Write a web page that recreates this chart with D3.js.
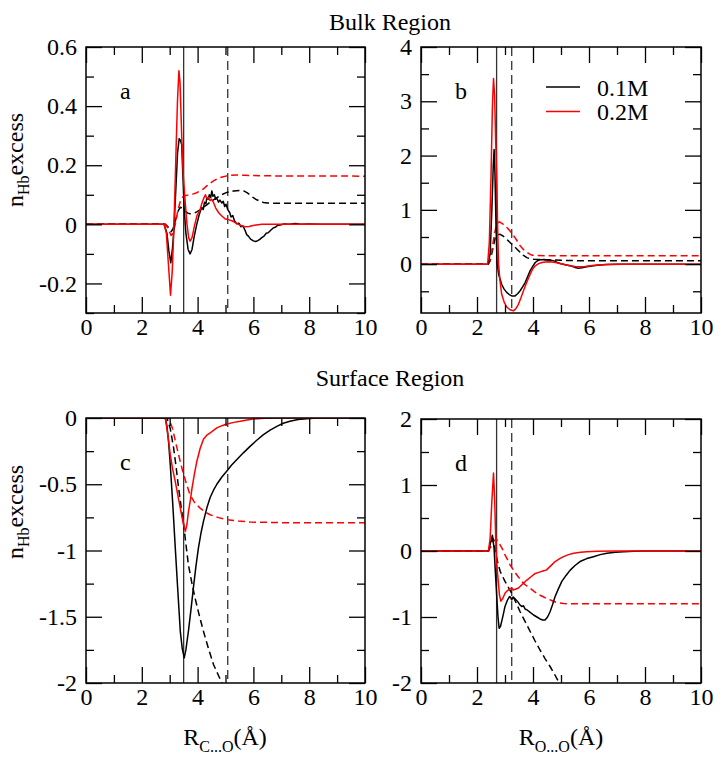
<!DOCTYPE html>
<html>
<head>
<meta charset="utf-8">
<script src="https://cdn.jsdelivr.net/npm/d3@7/dist/d3.min.js"></script>
<style>
  html, body { margin: 0; padding: 0; background: #fff; }
  svg { display: block; }
  text { font-family: "Liberation Serif", "Times New Roman", serif; fill: #000; }
</style>
</head>
<body>
<svg id="chart" width="721" height="761" font-family="Liberation Serif, serif"></svg>
<script>
// ---------------- DATA ----------------
const seriesNames = ["0.1M", "0.2M"];
const xMajorTicks = [0, 2, 4, 6, 8, 10];
const xMinorTicks = [1, 3, 5, 7, 9];

// Panel a (Bulk, R C...O)
const aSolid01 = [[0,0],[2.8,0],[2.9,-0.03],[2.97,-0.09],[3.04,-0.13],[3.1,-0.08],[3.15,-0.02],[3.22,0.12],[3.28,0.24],[3.34,0.29],[3.38,0.285],[3.43,0.27],[3.47,0.17],[3.52,0.05],[3.58,-0.03],[3.66,-0.085],[3.73,-0.1],[3.8,-0.085],[3.88,-0.04],[3.97,0.0],[4.05,0.03],[4.1,0.045],[4.15,0.057],[4.2,0.05],[4.25,0.075],[4.3,0.07],[4.33,0.09],[4.38,0.085],[4.42,0.1],[4.47,0.09],[4.51,0.113],[4.55,0.095],[4.6,0.1],[4.65,0.085],[4.69,0.088],[4.75,0.075],[4.8,0.082],[4.87,0.072],[4.92,0.078],[4.97,0.06],[5.02,0.068],[5.08,0.05],[5.15,0.04],[5.2,0.025],[5.26,0.03],[5.32,0.012],[5.4,0.002],[5.48,0.004],[5.55,-0.008],[5.62,-0.005],[5.7,-0.02],[5.76,-0.035],[5.82,-0.04],[5.9,-0.05],[6.0,-0.056],[6.08,-0.058],[6.16,-0.055],[6.24,-0.05],[6.3,-0.045],[6.38,-0.04],[6.46,-0.03],[6.54,-0.028],[6.62,-0.02],[6.7,-0.013],[6.78,-0.01],[6.86,-0.004],[6.95,-0.002],[7.1,0.001],[7.3,0.0],[7.5,0.003],[7.7,0],[8,0.001],[8.5,0],[10,0]];
const aSolid02 = [[0,0],[2.8,0],[2.88,-0.03],[2.95,-0.13],[3.03,-0.24],[3.09,-0.16],[3.14,-0.04],[3.19,0.12],[3.23,0.26],[3.28,0.42],[3.33,0.52],[3.37,0.48],[3.43,0.3],[3.49,0.16],[3.56,0.07],[3.62,0.0],[3.68,-0.045],[3.73,-0.057],[3.8,-0.045],[3.9,0.0],[3.98,0.03],[4.08,0.046],[4.15,0.07],[4.21,0.086],[4.28,0.1],[4.33,0.088],[4.39,0.09],[4.45,0.08],[4.5,0.085],[4.57,0.074],[4.65,0.055],[4.75,0.04],[4.85,0.03],[4.99,0.018],[5.1,0.016],[5.23,0.012],[5.35,0.006],[5.47,0.0],[5.6,-0.006],[5.7,-0.008],[5.85,-0.007],[5.94,-0.005],[6.1,-0.002],[6.3,0],[10,0]];
const aDash01 = [[0,0],[2.85,0],[2.95,-0.01],[3.05,-0.025],[3.12,-0.015],[3.2,0.01],[3.3,0.045],[3.38,0.058],[3.45,0.055],[3.55,0.045],[3.65,0.038],[3.73,0.036],[3.85,0.037],[3.97,0.042],[4.1,0.05],[4.21,0.058],[4.33,0.066],[4.45,0.075],[4.57,0.083],[4.69,0.09],[4.85,0.1],[5.05,0.108],[5.29,0.113],[5.53,0.115],[5.65,0.113],[5.77,0.107],[5.9,0.098],[6.0,0.09],[6.12,0.083],[6.24,0.078],[6.36,0.074],[6.5,0.072],[6.8,0.071],[10,0.071]];
const aDash02 = [[0,0],[2.85,0],[2.95,-0.015],[3.05,-0.038],[3.12,-0.03],[3.2,0.0],[3.3,0.05],[3.4,0.085],[3.5,0.095],[3.6,0.098],[3.75,0.1],[3.85,0.103],[3.97,0.107],[4.09,0.113],[4.21,0.12],[4.33,0.13],[4.45,0.139],[4.57,0.147],[4.7,0.154],[4.8,0.158],[4.92,0.161],[5.05,0.164],[5.2,0.166],[5.41,0.167],[5.7,0.166],[6.5,0.164],[10,0.163]];

// Panel b (Bulk, R O...O)
const bSolid01 = [[0,0],[2.4,0],[2.47,0.2],[2.53,1.0],[2.58,1.8],[2.61,2.11],[2.64,1.7],[2.68,0.7],[2.72,0.0],[2.78,-0.2],[2.88,-0.37],[2.97,-0.46],[3.06,-0.52],[3.15,-0.56],[3.24,-0.585],[3.36,-0.585],[3.45,-0.545],[3.54,-0.49],[3.63,-0.42],[3.72,-0.34],[3.81,-0.23],[3.9,-0.12],[3.99,-0.04],[4.08,0.03],[4.17,0.065],[4.25,0.08],[4.4,0.085],[4.5,0.078],[4.61,0.075],[4.75,0.06],[4.85,0.035],[4.97,0.012],[5.15,-0.01],[5.33,-0.03],[5.5,-0.06],[5.62,-0.074],[5.75,-0.065],[5.92,-0.05],[6.1,-0.035],[6.3,-0.02],[6.6,-0.008],[7,-0.003],[8,0],[10,0]];
const bSolid02 = [[0,0],[2.38,0],[2.44,0.4],[2.5,1.6],[2.55,2.9],[2.59,3.42],[2.63,3.1],[2.67,2.2],[2.71,1.48],[2.74,0.6],[2.77,0.0],[2.82,-0.3],[2.88,-0.55],[2.97,-0.7],[3.06,-0.79],[3.18,-0.84],[3.3,-0.86],[3.39,-0.82],[3.48,-0.74],[3.57,-0.62],[3.66,-0.49],[3.78,-0.33],[3.9,-0.185],[3.99,-0.09],[4.08,-0.03],[4.2,0.01],[4.32,0.03],[4.45,0.04],[4.61,0.043],[4.8,0.03],[4.97,0.012],[5.15,-0.01],[5.33,-0.03],[5.5,-0.045],[5.68,-0.05],[5.85,-0.042],[6.04,-0.03],[6.3,-0.015],[6.7,-0.005],[7.2,0],[10,0]];
const bDash01 = [[0,0],[2.4,0],[2.47,0.06],[2.55,0.25],[2.65,0.49],[2.74,0.54],[2.83,0.55],[2.95,0.51],[3.06,0.46],[3.18,0.4],[3.3,0.34],[3.42,0.28],[3.54,0.22],[3.66,0.16],[3.78,0.12],[3.9,0.1],[4.02,0.09],[4.25,0.085],[4.5,0.08],[5.0,0.07],[5.68,0.063],[6.5,0.062],[10,0.062]];
const bDash02 = [[0,0],[2.4,0],[2.47,0.08],[2.53,0.25],[2.62,0.55],[2.71,0.75],[2.8,0.78],[2.92,0.74],[3.06,0.68],[3.18,0.61],[3.3,0.53],[3.42,0.44],[3.54,0.34],[3.66,0.27],[3.78,0.22],[3.9,0.18],[3.96,0.165],[4.1,0.158],[4.5,0.155],[10,0.155]];

// Panel c (Surface, R C...O)
const cSolid01 = [[0,0],[2.84,0],[2.9,-0.06],[2.96,-0.18],[3.02,-0.35],[3.11,-0.65],[3.2,-0.98],[3.29,-1.3],[3.38,-1.61],[3.45,-1.74],[3.52,-1.81],[3.58,-1.75],[3.67,-1.61],[3.76,-1.45],[3.85,-1.28],[3.94,-1.12],[4.03,-0.98],[4.12,-0.87],[4.21,-0.78],[4.33,-0.68],[4.45,-0.6],[4.57,-0.545],[4.69,-0.5],[4.87,-0.445],[5.05,-0.4],[5.22,-0.355],[5.4,-0.315],[5.64,-0.263],[5.88,-0.214],[6.12,-0.168],[6.36,-0.126],[6.6,-0.092],[6.84,-0.063],[7.07,-0.04],[7.31,-0.025],[7.6,-0.012],[7.91,-0.005],[8.3,0],[10,0]];
const cSolid02 = [[0,0],[2.84,0],[2.93,-0.12],[3.02,-0.277],[3.11,-0.39],[3.2,-0.48],[3.29,-0.58],[3.38,-0.68],[3.47,-0.78],[3.56,-0.856],[3.62,-0.8],[3.67,-0.71],[3.74,-0.62],[3.8,-0.53],[3.88,-0.43],[3.97,-0.33],[4.09,-0.23],[4.21,-0.16],[4.33,-0.13],[4.45,-0.113],[4.57,-0.093],[4.69,-0.075],[4.87,-0.058],[5.05,-0.045],[5.3,-0.033],[5.53,-0.025],[5.77,-0.015],[6.0,-0.008],[6.4,-0.002],[7,0],[10,0]];
const cDash01 = [[0,0],[2.9,0],[3.02,-0.08],[3.14,-0.226],[3.23,-0.37],[3.32,-0.53],[3.41,-0.67],[3.5,-0.805],[3.58,-0.95],[3.67,-1.107],[3.79,-1.24],[3.91,-1.36],[4.06,-1.49],[4.21,-1.61],[4.39,-1.74],[4.57,-1.86],[4.72,-1.93],[4.87,-2.0],[5.0,-2.06]];
const cDash02 = [[0,0],[2.96,0],[3.1,-0.08],[3.26,-0.226],[3.38,-0.33],[3.5,-0.428],[3.62,-0.51],[3.73,-0.58],[3.9,-0.64],[4.09,-0.68],[4.27,-0.71],[4.45,-0.73],[4.75,-0.752],[5.05,-0.768],[5.45,-0.778],[5.88,-0.785],[7,-0.79],[10,-0.79]];

// Panel d (Surface, R O...O)
const dSolid01 = [[0,0],[2.41,0],[2.48,0.12],[2.55,0.24],[2.61,0.04],[2.66,-0.35],[2.71,-0.72],[2.75,-1.0],[2.79,-1.17],[2.84,-1.14],[2.88,-1.07],[2.94,-0.96],[3.0,-0.84],[3.08,-0.75],[3.16,-0.69],[3.2,-0.7],[3.24,-0.74],[3.28,-0.7],[3.35,-0.72],[3.44,-0.76],[3.54,-0.82],[3.6,-0.84],[3.66,-0.83],[3.72,-0.88],[3.78,-0.89],[3.9,-0.93],[4.02,-0.97],[4.14,-1.0],[4.25,-1.03],[4.35,-1.045],[4.43,-1.045],[4.52,-1.0],[4.61,-0.92],[4.7,-0.81],[4.79,-0.69],[4.91,-0.57],[5.03,-0.46],[5.18,-0.37],[5.33,-0.29],[5.5,-0.22],[5.68,-0.16],[5.92,-0.115],[6.16,-0.086],[6.4,-0.055],[6.64,-0.035],[6.94,-0.018],[7.24,-0.01],[7.6,-0.003],[8,0],[10,0]];
const dSolid02 = [[0,0],[2.41,0],[2.47,0.2],[2.53,0.75],[2.59,1.18],[2.63,0.8],[2.68,0.0],[2.72,-0.28],[2.76,-0.46],[2.8,-0.66],[2.85,-0.76],[2.92,-0.72],[3.0,-0.64],[3.09,-0.6],[3.18,-0.57],[3.24,-0.56],[3.3,-0.59],[3.39,-0.575],[3.48,-0.56],[3.63,-0.5],[3.78,-0.44],[3.93,-0.39],[4.08,-0.34],[4.23,-0.32],[4.38,-0.3],[4.47,-0.29],[4.55,-0.26],[4.67,-0.21],[4.79,-0.16],[4.94,-0.12],[5.09,-0.086],[5.27,-0.055],[5.45,-0.035],[5.7,-0.02],[5.92,-0.01],[6.3,-0.003],[7,0],[10,0]];
const dDash01 = [[0,0],[2.41,0],[2.49,0.1],[2.57,0.19],[2.62,0.1],[2.68,-0.06],[2.75,-0.19],[2.83,-0.31],[2.92,-0.39],[3.0,-0.46],[3.12,-0.55],[3.24,-0.64],[3.39,-0.78],[3.54,-0.92],[3.72,-1.07],[3.9,-1.22],[4.07,-1.36],[4.25,-1.5],[4.43,-1.63],[4.61,-1.75],[4.76,-1.86],[4.91,-1.98],[5.0,-2.05]];
const dDash02 = [[0,0],[2.41,0],[2.5,0.07],[2.59,0.15],[2.68,0.18],[2.75,0.15],[2.83,0.09],[2.92,0.02],[3.0,-0.06],[3.09,-0.13],[3.18,-0.21],[3.3,-0.29],[3.42,-0.36],[3.54,-0.43],[3.66,-0.49],[3.78,-0.53],[3.9,-0.565],[4.05,-0.615],[4.2,-0.66],[4.35,-0.69],[4.49,-0.72],[4.67,-0.75],[4.85,-0.78],[5.09,-0.795],[5.33,-0.8],[6,-0.8],[10,-0.8]];

// vertical reference lines [solid, dashed]
const vlinesCO = [3.5, 5.08];
const vlinesOO = [2.7, 3.24];

// y axis ranges and ticks
const aYDomain = [-0.3, 0.6], aYMajor = [-0.2, 0, 0.2, 0.4, 0.6], aYMinor = [-0.3, -0.1, 0.1, 0.3, 0.5];
const bYDomain = [-0.9, 4],   bYMajor = [0, 1, 2, 3, 4],          bYMinor = [-0.5, 0.5, 1.5, 2.5, 3.5];
const cYDomain = [-2, 0],     cYMajor = [-2, -1.5, -1, -0.5, 0],  cYMinor = [-1.75, -1.25, -0.75, -0.25];
const dYDomain = [-2, 2],     dYMajor = [-2, -1, 0, 1, 2],        dYMinor = [-1.5, -0.5, 0.5, 1.5];

// ---------------- LAYOUT ----------------
const svg = d3.select("#chart");
const FONT = 24;
const SERIF = "Liberation Serif, Times New Roman, serif";
const colors = { c01: "#000000", c02: "#ff0000" };

const panels = [
  { letter: "a", box: [86, 47, 365, 313], yDomain: aYDomain, yMajor: aYMajor, yMinor: aYMinor, s1: aSolid01, s2: aSolid02, d1: aDash01, d2: aDash02, vl: vlinesCO, legend: false },
  { letter: "b", box: [421, 47, 701, 313], yDomain: bYDomain, yMajor: bYMajor, yMinor: bYMinor, s1: bSolid01, s2: bSolid02, d1: bDash01, d2: bDash02, vl: vlinesOO, legend: true },
  { letter: "c", box: [86, 418, 365, 683], yDomain: cYDomain, yMajor: cYMajor, yMinor: cYMinor, s1: cSolid01, s2: cSolid02, d1: cDash01, d2: cDash02, vl: vlinesCO, legend: false },
  { letter: "d", box: [421, 419, 701, 683], yDomain: dYDomain, yMajor: dYMajor, yMinor: dYMinor, s1: dSolid01, s2: dSolid02, d1: dDash01, d2: dDash02, vl: vlinesOO, legend: false }
];

const fmt = d => String(Math.round(d * 100) / 100);

panels.forEach((p, i) => {
  const [L, T, R, B] = p.box;
  const x = d3.scaleLinear().domain([0, 10]).range([L, R]);
  const y = d3.scaleLinear().domain(p.yDomain).range([B, T]);
  const g = svg.append("g");

  const clipId = "clip" + i;
  svg.append("clipPath").attr("id", clipId).append("rect")
    .attr("x", L).attr("y", T).attr("width", R - L).attr("height", B - T);

  const plot = g.append("g").attr("clip-path", `url(#${clipId})`);

  // vertical reference lines
  plot.append("line").attr("x1", x(p.vl[0])).attr("x2", x(p.vl[0])).attr("y1", T).attr("y2", B)
    .attr("stroke", "#333").attr("stroke-width", 1.3);
  plot.append("line").attr("x1", x(p.vl[1])).attr("x2", x(p.vl[1])).attr("y1", T).attr("y2", B)
    .attr("stroke", "#333").attr("stroke-width", 1.3).attr("stroke-dasharray", "9,5");

  const line = d3.line().x(d => x(d[0])).y(d => y(d[1]));
  const series = [
    { data: p.d1, color: colors.c01, dash: "7,4" },
    { data: p.d2, color: colors.c02, dash: "7,4" },
    { data: p.s1, color: colors.c01, dash: null },
    { data: p.s2, color: colors.c02, dash: null }
  ];
  series.forEach(s => {
    plot.append("path").datum(s.data).attr("d", line)
      .attr("fill", "none").attr("stroke", s.color).attr("stroke-width", 1.5)
      .attr("stroke-linejoin", "round")
      .attr("stroke-dasharray", s.dash);
  });

  // axes with inward ticks
  const styleAxis = sel => {
    sel.attr("font-family", SERIF).attr("font-size", FONT);
    sel.select(".domain").remove();
    sel.selectAll(".tick line").attr("stroke", "#000").attr("stroke-width", 1.3);
    sel.selectAll("text").style("font-family", SERIF).style("font-size", FONT + "px").attr("fill", "#000");
  };
  g.append("g").attr("transform", `translate(0,${B})`)
    .call(d3.axisBottom(x).tickValues(xMajorTicks).tickSize(-16).tickPadding(5).tickFormat(fmt)).call(styleAxis);
  g.append("g").attr("transform", `translate(0,${B})`)
    .call(d3.axisBottom(x).tickValues(xMinorTicks).tickSize(-8).tickFormat("")).call(styleAxis);
  g.append("g").attr("transform", `translate(0,${T})`)
    .call(d3.axisTop(x).tickValues(xMajorTicks).tickSize(-16).tickFormat("")).call(styleAxis);
  g.append("g").attr("transform", `translate(0,${T})`)
    .call(d3.axisTop(x).tickValues(xMinorTicks).tickSize(-8).tickFormat("")).call(styleAxis);
  g.append("g").attr("transform", `translate(${L},0)`)
    .call(d3.axisLeft(y).tickValues(p.yMajor).tickSize(-16).tickPadding(9).tickFormat(fmt)).call(styleAxis);
  g.append("g").attr("transform", `translate(${L},0)`)
    .call(d3.axisLeft(y).tickValues(p.yMinor).tickSize(-8).tickFormat("")).call(styleAxis);
  g.append("g").attr("transform", `translate(${R},0)`)
    .call(d3.axisRight(y).tickValues(p.yMajor).tickSize(-16).tickFormat("")).call(styleAxis);
  g.append("g").attr("transform", `translate(${R},0)`)
    .call(d3.axisRight(y).tickValues(p.yMinor).tickSize(-8).tickFormat("")).call(styleAxis);

  // frame
  g.append("rect").attr("x", L).attr("y", T).attr("width", R - L).attr("height", B - T)
    .attr("fill", "none").attr("stroke", "#000").attr("stroke-width", 1.5);

  // panel letter
  g.append("text").attr("x", L + 34).attr("y", T + 52).attr("font-size", FONT).text(p.letter);

  if (p.legend) {
    const lg = g.append("g");
    seriesNames.forEach((nm, k) => {
      const yy = T + 40 + k * 24.5;
      lg.append("line").attr("x1", L + 125).attr("x2", L + 159).attr("y1", yy).attr("y2", yy)
        .attr("stroke", k === 0 ? colors.c01 : colors.c02).attr("stroke-width", 1.5);
      lg.append("text").attr("x", L + 176).attr("y", yy + 8.5).attr("font-size", FONT).text(nm);
    });
  }
});

// titles
svg.append("text").attr("x", 390).attr("y", 30).attr("text-anchor", "middle").attr("font-size", FONT).text("Bulk Region");
svg.append("text").attr("x", 390).attr("y", 386).attr("text-anchor", "middle").attr("font-size", FONT).text("Surface Region");

// y labels
function yLabel(cy) {
  const t = svg.append("text").attr("transform", `translate(23,${cy}) rotate(-90)`)
    .attr("text-anchor", "middle").attr("font-size", FONT);
  t.append("tspan").text("n");
  t.append("tspan").attr("font-size", 16).attr("dy", 6).text("Hb");
  t.append("tspan").attr("dy", -6).text("excess");
}
yLabel(160);
yLabel(512);

// x labels
function xLabel(cx, sub) {
  const t = svg.append("text").attr("x", cx).attr("y", 745).attr("text-anchor", "middle").attr("font-size", FONT);
  t.append("tspan").text("R");
  t.append("tspan").attr("font-size", 16).attr("dy", 7).text(sub);
  t.append("tspan").attr("dy", -7).text("(Å)");
}
xLabel(225, "C...O");
xLabel(561, "O...O");
</script>
</body>
</html>
